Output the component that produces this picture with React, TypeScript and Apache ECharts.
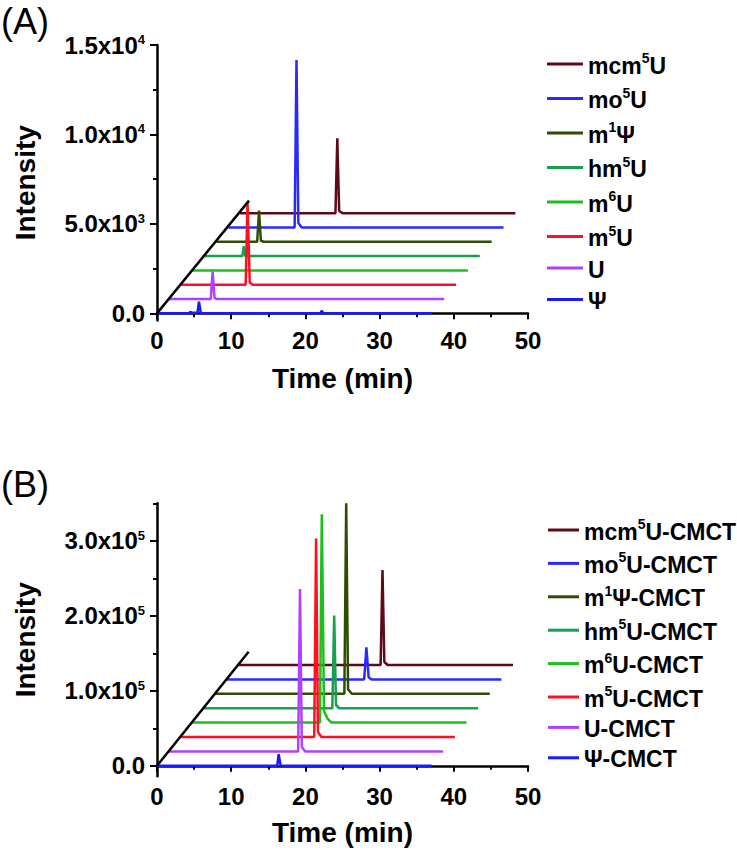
import React, { useEffect, useRef } from 'react';
import * as echarts from 'echarts';

const FONT = '"Liberation Sans", Arial, Helvetica, sans-serif';

// Trace names, top trace first (legend order)
const namesA = ['mcm5U', 'mo5U', 'm1Ψ', 'hm5U', 'm6U', 'm5U', 'U', 'Ψ'];
const legendLabelsA = [
  '{t|mcm}{s|5}{t|U}', '{t|mo}{s|5}{t|U}', '{t|m}{s|1}{t|Ψ}', '{t|hm}{s|5}{t|U}',
  '{t|m}{s|6}{t|U}', '{t|m}{s|5}{t|U}', '{t|U}', '{t|Ψ}',
];
const namesB = ['mcm5U-CMCT', 'mo5U-CMCT', 'm1Ψ-CMCT', 'hm5U-CMCT', 'm6U-CMCT', 'm5U-CMCT', 'U-CMCT', 'Ψ-CMCT'];
const legendLabelsB = [
  '{t|mcm}{s|5}{t|U-CMCT}', '{t|mo}{s|5}{t|U-CMCT}', '{t|m}{s|1}{t|Ψ-CMCT}', '{t|hm}{s|5}{t|U-CMCT}',
  '{t|m}{s|6}{t|U-CMCT}', '{t|m}{s|5}{t|U-CMCT}', '{t|U-CMCT}', '{t|Ψ-CMCT}',
];
const colors = ['#5e0a16', '#2a2aff', '#2e4d00', '#16a050', '#1cc01c', '#ff1020', '#b040ff', '#1a1aff'];

// Waterfall offsets per stacked level (time shift, intensity shift)
const stepA = [1.6, 800];
const stepB = [1.57, 19200];

// Panel A raw chromatograms [time (min), intensity], top trace first
const mcm5uA = [[0, 0], [12.85, 0], [13.1, 4190], [13.35, 120], [13.8, 0], [37.1, 0]];
const mo5uA = [[0, 0], [8.95, 0], [9.2, 9360], [9.45, 250], [9.9, 0], [37.1, 0]];
const m1psiA = [[0, 0], [5.5, 0], [5.75, 1750], [6.0, 60], [6.4, 0], [37.1, 0]];
const hm5uA = [[0, 0], [5.1, 0], [5.3, 560], [5.5, 0], [37.1, 0]];
const m6uA = [[0, 0], [37.1, 0]];
const m5uA = [[0, 0], [8.75, 0], [9.0, 4600], [9.3, 120], [9.7, 0], [37.1, 0]];
const uA = [[0, 0], [5.65, 0], [5.9, 1540], [6.15, 60], [6.5, 0], [37.1, 0]];
const psiA = [[0, 0], [4.3, 0], [4.5, 90], [4.7, 30], [5.45, 30], [5.66, 650], [5.9, 20], [6.2, 0], [22.0, 0], [22.2, 140], [22.45, 0], [37.1, 0]];
const tracesA = [mcm5uA, mo5uA, m1psiA, hm5uA, m6uA, m5uA, uA, psiA];

// Panel B raw chromatograms
const mcm5uB = [[0, 0], [19.15, 0], [19.4, 126700], [19.65, 4000], [20.1, 0], [37, 0]];
const mo5uB = [[0, 0], [18.5, 0], [18.8, 42700], [19.1, 3000], [19.5, 0], [37, 0]];
const m1psiB = [[0, 0], [17.4, 0], [17.65, 254000], [17.9, 6000], [18.4, 0], [37, 0]];
const hm5uB = [[0, 0], [17.35, 0], [17.6, 123600], [17.85, 4000], [18.3, 0], [37, 0]];
const m6uB = [[0, 0], [17.25, 0], [17.5, 277800], [17.8, 15000], [18.3, 5000], [18.8, 0], [37, 0]];
const m5uB = [[0, 0], [18.05, 0], [18.3, 264800], [18.55, 7000], [19.0, 0], [37, 0]];
const uB = [[0, 0], [17.45, 0], [17.7, 216500], [17.95, 6000], [18.4, 0], [37, 0]];
const psiB = [[0, 0], [16.2, 0], [16.4, 15600], [16.65, 500], [17.0, 0], [37, 0]];
const tracesB = [mcm5uB, mo5uB, m1psiB, hm5uB, m6uB, m5uB, uB, psiB];

// Diagonal guide lines
const diagA = [[0, 0], [12.4, 6300]];
const diagB = [[0, 0], [12.35, 152000]];

// Axis ticks
const yRangeA = [-400, 15000];
const yTicksA = [0, 5000, 10000, 15000];
const yTickLabelsA = ['{b|0.0}', '{b|5.0x10}{s|3}', '{b|1.0x10}{s|4}', '{b|1.5x10}{s|4}'];
const yMinorA = [2500, 7500, 12500];
const yRangeB = [-14000, 350000];
const yTicksB = [0, 100000, 200000, 300000];
const yTickLabelsB = ['{b|0.0}', '{b|1.0x10}{s|5}', '{b|2.0x10}{s|5}', '{b|3.0x10}{s|5}'];
const yMinorB = [50000, 150000, 250000, 350000];
const xRange = [0, 50];
const xInterval = 10;

export default function App() {
  const ref = useRef<HTMLDivElement>(null);
  useEffect(() => {
    if (!ref.current) return;
    const chart = echarts.init(ref.current, undefined, { renderer: 'svg' });
    const axisLine = { show: true, lineStyle: { color: '#000', width: 2.5 } };
    const tickLabelRich = {
      b: { fontSize: 24, fontWeight: 'bold', fontFamily: FONT, color: '#000', lineHeight: 24, verticalAlign: 'bottom' },
      s: { fontSize: 13, fontWeight: 'bold', fontFamily: FONT, color: '#000', verticalAlign: 'top' },
    };
    const legendRich = {
      t: { fontSize: 23, fontWeight: 'bold', fontFamily: FONT, color: '#000', lineHeight: 26, verticalAlign: 'bottom' },
      s: { fontSize: 14, fontWeight: 'bold', fontFamily: FONT, color: '#000', verticalAlign: 'top' },
    };
    const xAxis = (gridIndex: number, nameGap: number) => ({
      type: 'value', gridIndex, min: xRange[0], max: xRange[1], interval: xInterval,
      name: 'Time (min)', nameLocation: 'middle', nameGap,
      nameTextStyle: { fontSize: 28, fontWeight: 'bold', fontFamily: FONT, color: '#000' },
      axisLine,
      axisTick: { show: true, length: 6, lineStyle: { color: '#000', width: 2 } },
      minorTick: { show: true, splitNumber: 2, length: 4, lineStyle: { color: '#000', width: 2 } },
      axisLabel: { fontSize: 24, fontWeight: 'bold', fontFamily: FONT, color: '#000', margin: 8 },
      splitLine: { show: false },
    });
    const yMajor = (gridIndex: number, range: number[], ticks: number[], labels: string[]) => ({
      type: 'value', gridIndex, position: 'left', min: range[0], max: range[1],
      name: 'Intensity', nameLocation: 'middle', nameGap: 118,
      nameTextStyle: { fontSize: 28, fontWeight: 'bold', fontFamily: FONT, color: '#000' },
      axisLine,
      axisTick: { show: true, length: 7, customValues: ticks, lineStyle: { color: '#000', width: 2 } },
      axisLabel: {
        customValues: ticks, margin: 12,
        formatter: (v: number) => labels[ticks.indexOf(v)] ?? '',
        rich: tickLabelRich,
      },
      splitLine: { show: false },
    });
    const yMinor = (gridIndex: number, range: number[], ticks: number[]) => ({
      type: 'value', gridIndex, position: 'left', offset: 0, min: range[0], max: range[1],
      axisLine: { show: false },
      axisTick: { show: true, length: 4, customValues: ticks, lineStyle: { color: '#000', width: 2 } },
      axisLabel: { show: false },
      splitLine: { show: false },
    });
    const buildSeries = (names: string[], traces: number[][][], step: number[], xi: number, yi: number) =>
      names.map((name, k) => {
        const level = names.length - 1 - k;
        return {
          name, type: 'line', xAxisIndex: xi, yAxisIndex: yi, showSymbol: false, symbol: 'none',
          color: colors[k],
          lineStyle: { color: colors[k], width: 2.5 },
          data: traces[k].map(([t, v]) => [t + level * step[0], v + level * step[1]]),
        };
      });
    const diag = (data: number[][], xi: number, yi: number) => ({
      type: 'line', xAxisIndex: xi, yAxisIndex: yi, showSymbol: false, symbol: 'none',
      lineStyle: { color: '#000', width: 2.5 }, data, silent: true,
    });
    const legend = (names: string[], labels: string[], left: number, top: number, itemWidth: number, itemGap: number) => ({
      orient: 'vertical', left, top, padding: 0, itemWidth, itemHeight: 3, itemGap, icon: 'rect',
      selectedMode: false, data: names,
      formatter: (n: string) => labels[names.indexOf(n)],
      textStyle: { rich: legendRich },
    });
    chart.setOption({
      animation: false,
      backgroundColor: '#fff',
      title: [
        { text: '(A)', left: 1, top: 3, padding: 0, textStyle: { fontSize: 36, fontWeight: 'normal', fontFamily: FONT, color: '#000' } },
        { text: '(B)', left: 1, top: 466, padding: 0, textStyle: { fontSize: 36, fontWeight: 'normal', fontFamily: FONT, color: '#000' } },
      ],
      grid: [
        { left: 157, top: 45, width: 371, height: 275.5 },
        { left: 157, top: 503.3, width: 371, height: 273 },
      ],
      xAxis: [xAxis(0, 44), xAxis(1, 42)],
      yAxis: [
        yMajor(0, yRangeA, yTicksA, yTickLabelsA),
        yMinor(0, yRangeA, yMinorA),
        yMajor(1, yRangeB, yTicksB, yTickLabelsB),
        yMinor(1, yRangeB, yMinorB),
      ],
      legend: [
        legend(namesA, legendLabelsA, 547, 51, 36, 8.5),
        legend(namesB, legendLabelsB, 548, 517, 31, 7.4),
      ],
      series: [
        ...buildSeries(namesA, tracesA, stepA, 0, 0),
        diag(diagA, 0, 0),
        ...buildSeries(namesB, tracesB, stepB, 1, 2),
        diag(diagB, 1, 2),
      ],
    });
    return () => chart.dispose();
  }, []);
  return <div ref={ref} style={{ position: 'absolute', left: 0, top: 0, width: 737, height: 850 }} />;
}
